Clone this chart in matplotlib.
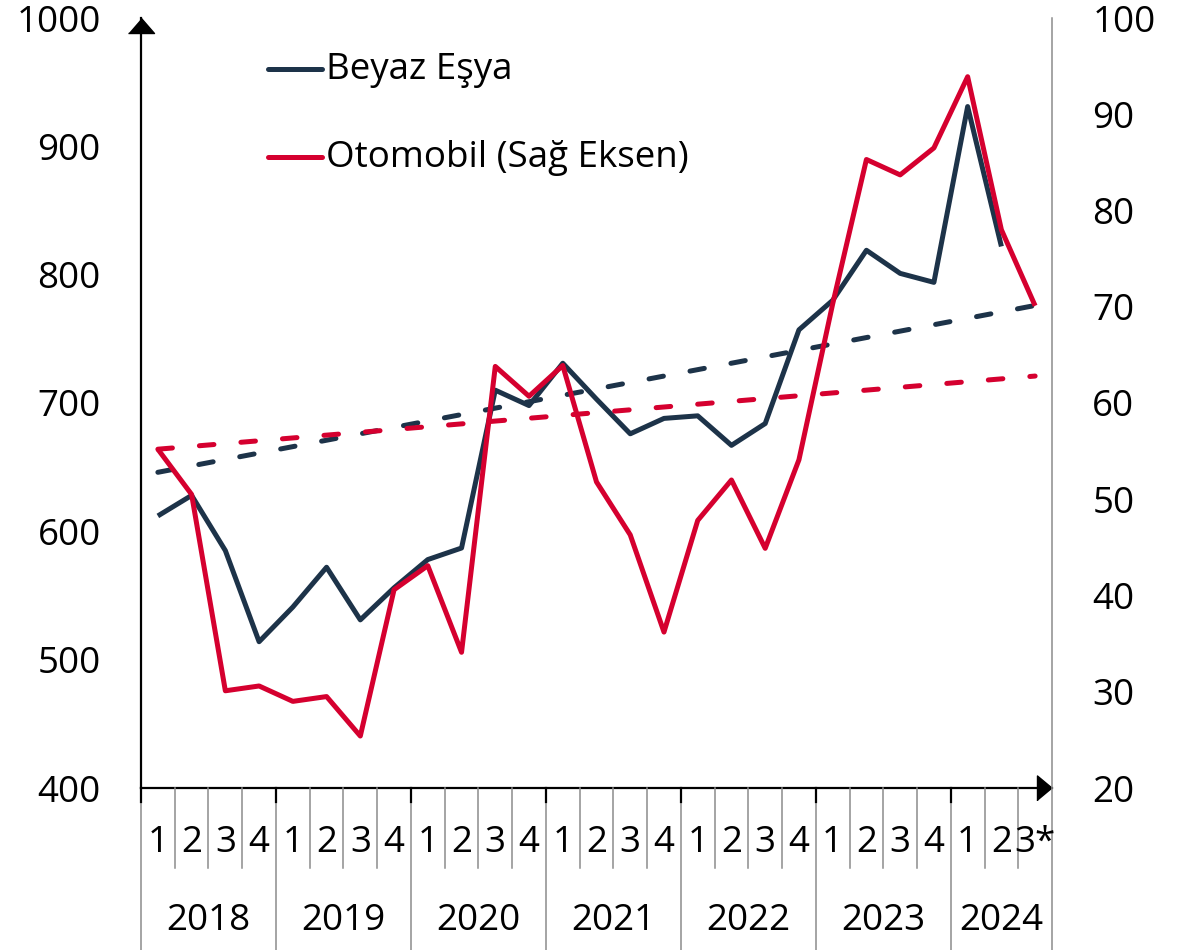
import matplotlib
matplotlib.use('Agg')
import matplotlib.pyplot as plt
from matplotlib.lines import Line2D
import matplotlib.transforms as mtransforms

plt.rcParams['font.family'] = ['Open Sans', 'DejaVu Sans']
plt.rcParams['lines.scale_dashes'] = False

# quarters 2018Q1 .. 2024Q3
years = ['2018', '2019', '2020', '2021', '2022', '2023', '2024']
quarter_labels = ['1', '2', '3', '4'] * 6 + ['1', '2', '3*']

beyaz_esya = [612, 628, 585, 514, 541, 572, 531, 556,
              578, 587, 710, 698, 731, 703, 676, 688,
              690, 667, 684, 757, 780, 819, 801, 794,
              931, 822]
otomobil = [55.2, 50.5, 30.1, 30.6, 29.0, 29.5, 25.4, 40.6,
            43.1, 34.1, 63.8, 60.7, 63.9, 51.8, 46.3, 36.2,
            47.8, 52.0, 44.9, 54.1, 70.3, 85.3, 83.7, 86.5,
            93.9, 78.0, 70.1]

# trend lines (start and end values)
trend_x = [0, 26]
beyaz_trend = [646, 776]
otomobil_trend = [55.2, 62.8]

NAVY = '#1d3349'
RED = '#d5002f'
GRAY = '#8c8c8c'
FS = 26.5

W, H = 1196, 950
fig = plt.figure(figsize=(W / 100, H / 100), dpi=100)
L, R, B, T = 141, 1052, 788, 18
ax = fig.add_axes([L / W, 1 - B / H, (R - L) / W, (B - T) / H])
ax2 = ax.twinx()

n = len(quarter_labels)
ax.set_xlim(-0.5, n - 0.5)
ax.set_ylim(400, 1000)
ax2.set_ylim(20, 100)

lw = 3.6
dash = (10.5, 19.5)
ax.plot(trend_x, beyaz_trend, color=NAVY, lw=lw, dashes=dash,
        dash_capstyle='round', zorder=2)
ax.plot(range(len(beyaz_esya)), beyaz_esya, color=NAVY, lw=lw,
        solid_capstyle='butt', zorder=3)
ax2.plot(trend_x, otomobil_trend, color=RED, lw=lw, dashes=dash,
         dash_capstyle='round', zorder=2)
ax2.plot(range(len(otomobil)), otomobil, color=RED, lw=lw,
         solid_capstyle='butt', zorder=3)

# axes styling
for a in (ax, ax2):
    for s in ('top', 'right'):
        a.spines[s].set_visible(False)
ax2.spines['left'].set_visible(False)
ax2.spines['bottom'].set_visible(False)
ax.spines['left'].set_linewidth(1.6)
ax.spines['bottom'].set_linewidth(1.6)

ax.set_yticks(range(400, 1001, 100))
ax2.set_yticks(range(20, 101, 10))
ax.tick_params(axis='y', length=0, pad=29, labelsize=FS)
ax2.tick_params(axis='y', length=0, pad=29, labelsize=FS)
ax.set_xticks([])

# arrow heads
ax.plot([0], [1], transform=ax.transAxes, marker=[(-13, -15), (13, -15), (0, 0)],
        markersize=21.6, color='black', clip_on=False, zorder=5)
ax.plot([1], [0], transform=ax.transAxes, marker=[(-15, -12.5), (-15, 12.5), (0, 0)],
        markersize=21.6, color='black', clip_on=False, zorder=5)

# right vertical gray line
fig.add_artist(Line2D([R / W, R / W], [0, 1 - T / H], color=GRAY, lw=1.1))

# category axis: separators and labels
tr = mtransforms.blended_transform_factory(ax.transData, fig.transFigure)
y_axis = 1 - B / H
y_q_end = 1 - 868 / H
y_tick = 1 - 802 / H
for k in range(n):
    xb = k - 0.5
    if k % 4 == 0:
        fig.add_artist(Line2D([xb, xb], [0, y_axis], color=GRAY, lw=1.1, transform=tr))
        fig.add_artist(Line2D([xb, xb], [y_tick, y_axis], color='black', lw=1.6, transform=tr))
    else:
        fig.add_artist(Line2D([xb, xb], [y_q_end, y_axis], color=GRAY, lw=1.1, transform=tr))
    fig.text(k, 1 - 843 / H, quarter_labels[k], transform=tr, ha='center', va='center',
             fontsize=FS)

for i, yr in enumerate(years):
    start = i * 4
    end = min(start + 4, n)
    fig.text((start + end - 1) / 2, 1 - 921 / H, yr, transform=tr, ha='center',
             va='center', fontsize=FS)

# legend
for ypx, col, lab in [(69, NAVY, 'Beyaz Eşya'), (157, RED, 'Otomobil (Sağ Eksen)')]:
    fig.add_artist(Line2D([268 / W, 322 / W], [1 - ypx / H] * 2, color=col, lw=lw,
                          solid_capstyle='round'))
    fig.text(326 / W, 1 - (ypx + 1) / H, lab, ha='left', va='center', fontsize=FS)

fig.savefig('out.png', dpi=100)
